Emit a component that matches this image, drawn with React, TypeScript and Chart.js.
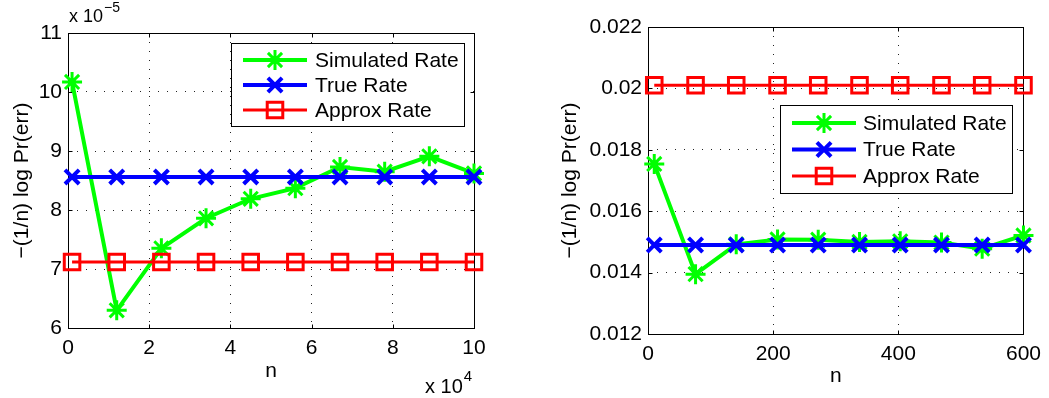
import React, { useEffect, useRef } from 'react';
import { Chart, registerables } from 'chart.js';
import { drawPoint } from 'chart.js/helpers';

Chart.register(...registerables);

const FONT = "'Liberation Sans', Arial, Helvetica, sans-serif";

const seriesNames = ['Simulated Rate', 'True Rate', 'Approx Rate'];
const yTitle = '\u2212(1/n) log Pr(err)';
const xTitle = 'n';

// Left panel: n in units of 10^4, rates in units of 10^-5
const nLeft = [0.1, 1.2, 2.3, 3.4, 4.5, 5.6, 6.7, 7.8, 8.9, 10];
const simLeft = [10.17, 6.3, 7.35, 7.86, 8.19, 8.37, 8.73, 8.65, 8.91, 8.62];
const trueLeft = [8.56, 8.56, 8.56, 8.56, 8.56, 8.56, 8.56, 8.56, 8.56, 8.56];
const approxLeft = [7.12, 7.12, 7.12, 7.12, 7.12, 7.12, 7.12, 7.12, 7.12, 7.12];
const leftXTicks = [0, 2, 4, 6, 8, 10];
const leftYTicks = [6, 7, 8, 9, 10, 11];
const leftXExp = '4';
const leftYExp = '\u22125';

// Right panel
const nRight = [10, 76, 141, 207, 272, 338, 403, 469, 534, 600];
const simRight = [0.01754, 0.01395, 0.01492, 0.01508, 0.01507, 0.015, 0.01502, 0.01498, 0.01478, 0.01521];
const trueRight = [0.0149, 0.0149, 0.0149, 0.0149, 0.0149, 0.0149, 0.0149, 0.0149, 0.0149, 0.0149];
const approxRight = [0.0201, 0.0201, 0.0201, 0.0201, 0.0201, 0.0201, 0.0201, 0.0201, 0.0201, 0.0201];
const rightXTicks = [0, 200, 400, 600];
const rightYTicks = [0.012, 0.014, 0.016, 0.018, 0.02, 0.022];

const framePlugin = {
  id: 'mframe',
  beforeDatasetsDraw(chart: any) {
    const { ctx, chartArea: a, scales } = chart;
    const L = Math.round(a.left) + 0.5, R = Math.round(a.right) + 0.5;
    const T = Math.round(a.top) + 0.5, B = Math.round(a.bottom) + 0.5;
    ctx.save();
    ctx.strokeStyle = '#000';
    ctx.lineWidth = 1;
    ctx.setLineDash([]);
    ctx.strokeRect(L, T, R - L, B - T);
    const tl = 4;
    ctx.beginPath();
    scales.x.ticks.forEach((t: any) => {
      const px = Math.round(scales.x.getPixelForValue(t.value)) + 0.5;
      ctx.moveTo(px, B); ctx.lineTo(px, B - tl);
      ctx.moveTo(px, T); ctx.lineTo(px, T + tl);
    });
    scales.y.ticks.forEach((t: any) => {
      const py = Math.round(scales.y.getPixelForValue(t.value)) + 0.5;
      ctx.moveTo(L, py); ctx.lineTo(L + tl, py);
      ctx.moveTo(R, py); ctx.lineTo(R - tl, py);
    });
    ctx.stroke();
    ctx.restore();
  },
};

const legendPlugin = {
  id: 'mlegend',
  afterDraw(chart: any, _args: any, opts: any) {
    if (!opts || !opts.box) return;
    const { ctx } = chart;
    const [x0, y0, x1, y1] = opts.box;
    ctx.save();
    ctx.fillStyle = '#fff';
    ctx.fillRect(x0, y0, x1 - x0, y1 - y0);
    ctx.strokeStyle = '#000';
    ctx.lineWidth = 1;
    ctx.strokeRect(x0 + 0.5, y0 + 0.5, x1 - x0, y1 - y0);
    const order = [0, 1, 2];
    order.forEach((i) => {
      const ds = chart.data.datasets[i];
      const y = opts.rows[i];
      ctx.strokeStyle = ds.borderColor;
      ctx.lineWidth = ds.borderWidth;
      ctx.beginPath();
      ctx.moveTo(opts.line[0], y);
      ctx.lineTo(opts.line[1], y);
      ctx.stroke();
      ctx.strokeStyle = ds.pointBorderColor;
      ctx.fillStyle = 'rgba(0,0,0,0)';
      ctx.lineWidth = ds.pointBorderWidth;
      drawPoint(ctx, { pointStyle: ds.pointStyle, radius: ds.pointRadius, rotation: 0, borderWidth: ds.pointBorderWidth } as any, (opts.line[0] + opts.line[1]) / 2, y);
      ctx.fillStyle = '#000';
      ctx.font = `21px ${FONT}`;
      ctx.textBaseline = 'middle';
      ctx.textAlign = 'left';
      ctx.fillText(ds.label, opts.textX, y + 1);
    });
    ctx.restore();
  },
};

const expPlugin = {
  id: 'mexp',
  afterDraw(chart: any, _args: any, opts: any) {
    if (!opts || !opts.items) return;
    const { ctx } = chart;
    ctx.save();
    ctx.fillStyle = '#000';
    ctx.textAlign = 'left';
    ctx.textBaseline = 'alphabetic';
    opts.items.forEach((it: any) => {
      ctx.font = `${it.size}px ${FONT}`;
      ctx.fillText('x 10', it.x, it.y);
      const w = ctx.measureText('x 10').width;
      ctx.font = `${it.supSize}px ${FONT}`;
      ctx.fillText(it.sup, it.x + w + 1, it.y - it.rise);
    });
    ctx.restore();
  },
};

function makeDatasets(xs: number[], sim: number[], tru: number[], apx: number[]) {
  const pts = (ys: number[]) => xs.map((x, i) => ({ x, y: ys[i] }));
  return [
    {
      label: seriesNames[0], data: pts(sim), borderColor: '#00ff00', backgroundColor: 'rgba(0,0,0,0)',
      borderWidth: 4, pointStyle: 'star', pointRadius: 10, pointBorderWidth: 3,
      pointBorderColor: '#00ff00', pointBackgroundColor: 'rgba(0,0,0,0)', tension: 0, clip: false as any, order: 2,
    },
    {
      label: seriesNames[1], data: pts(tru), borderColor: '#0000ff', backgroundColor: 'rgba(0,0,0,0)',
      borderWidth: 4, pointStyle: 'crossRot', pointRadius: 10, pointBorderWidth: 4,
      pointBorderColor: '#0000ff', pointBackgroundColor: 'rgba(0,0,0,0)', tension: 0, clip: false as any, order: 1,
    },
    {
      label: seriesNames[2], data: pts(apx), borderColor: '#ff0000', backgroundColor: 'rgba(0,0,0,0)',
      borderWidth: 3, pointStyle: 'rect', pointRadius: 11, pointBorderWidth: 3,
      pointBorderColor: '#ff0000', pointBackgroundColor: 'rgba(0,0,0,0)', tension: 0, clip: false as any, order: 0,
    },
  ];
}

function fmt(v: number) {
  return String(Number(v.toFixed(4)));
}

function makeConfig(p: any) {
  const tickFont = { family: FONT, size: 21 };
  return {
    type: 'line',
    data: { datasets: makeDatasets(p.xs, p.sim, p.tru, p.apx) },
    plugins: [framePlugin, legendPlugin, expPlugin],
    options: {
      responsive: false,
      animation: false,
      events: [],
      layout: { padding: { left: 0, right: p.padRight, top: p.padTop, bottom: 0 } },
      plugins: {
        legend: { display: false },
        tooltip: { enabled: false },
        mlegend: p.legend,
        mexp: p.exp,
      },
      scales: {
        x: {
          type: 'linear', min: p.xMin, max: p.xMax,
          afterBuildTicks: (s: any) => { s.ticks = p.xTicks.map((v: number) => ({ value: v })); },
          afterFit: (s: any) => { s.height = p.xAxisH; },
          grid: { color: '#222', lineWidth: 1, drawTicks: false },
          border: { display: false, dash: [1, 8] },
          ticks: { font: tickFont, color: '#000', padding: p.xTickPad, maxRotation: 0, autoSkip: false, callback: (v: any) => fmt(Number(v)) },
          title: { display: true, text: xTitle, font: { family: FONT, size: 21 }, color: '#000', padding: { top: 0, bottom: p.xTitlePad } },
        },
        y: {
          type: 'linear', min: p.yMin, max: p.yMax,
          afterBuildTicks: (s: any) => { s.ticks = p.yTicks.map((v: number) => ({ value: v })); },
          afterFit: (s: any) => { s.width = p.yAxisW; },
          grid: { color: '#222', lineWidth: 1, drawTicks: false },
          border: { display: false, dash: [1, 8] },
          ticks: { font: tickFont, color: '#000', padding: p.yTickPad, autoSkip: false, callback: (v: any) => fmt(Number(v)) },
          title: { display: true, text: yTitle, font: { family: FONT, size: 21 }, color: '#000', padding: { top: p.yTitlePad, bottom: 0 } },
        },
      },
    },
  } as any;
}

function Panel(props: { left: number; width: number; cfg: any }) {
  const ref = useRef<HTMLCanvasElement | null>(null);
  useEffect(() => {
    if (!ref.current) return;
    const chart = new Chart(ref.current, makeConfig(props.cfg));
    return () => chart.destroy();
  }, []);
  return (
    <canvas
      ref={ref}
      width={props.width}
      height={398}
      style={{ position: 'absolute', left: props.left, top: 0, width: props.width, height: 398, display: 'block' }}
    />
  );
}

const leftCfg = {
  xs: nLeft, sim: simLeft, tru: trueLeft, apx: approxLeft,
  xMin: 0, xMax: 10, yMin: 6, yMax: 11, xTicks: leftXTicks, yTicks: leftYTicks,
  padTop: 33, padRight: 50, xAxisH: 70, yAxisW: 68,
  xTickPad: 8, yTickPad: 6, xTitlePad: 14, yTitlePad: 10,
  legend: { box: [231, 43, 464, 126], rows: [60, 85, 110], line: [243, 307], textX: 315 },
  exp: {
    items: [
      { x: 69, y: 22, size: 18, sup: leftYExp, supSize: 14, rise: 10 },
      { x: 425, y: 393, size: 20, sup: leftXExp, supSize: 15, rise: 12 },
    ],
  },
};

const rightCfg = {
  xs: nRight, sim: simRight, tru: trueRight, apx: approxRight,
  xMin: 0, xMax: 600, yMin: 0.012, yMax: 0.022, xTicks: rightXTicks, yTicks: rightYTicks,
  padTop: 27, padRight: 21, xAxisH: 64, yAxisW: 124,
  xTickPad: 8, yTickPad: 6, xTitlePad: 9, yTitlePad: 34,
  legend: { box: [256, 105, 488, 193], rows: [123, 149.5, 176], line: [268, 332], textX: 339 },
  exp: null,
};

export default function App() {
  return (
    <div style={{ position: 'absolute', left: 0, top: 0, width: 1049, height: 398, background: '#fff' }}>
      <Panel left={0} width={524} cfg={leftCfg} />
      <Panel left={524} width={525} cfg={rightCfg} />
    </div>
  );
}
